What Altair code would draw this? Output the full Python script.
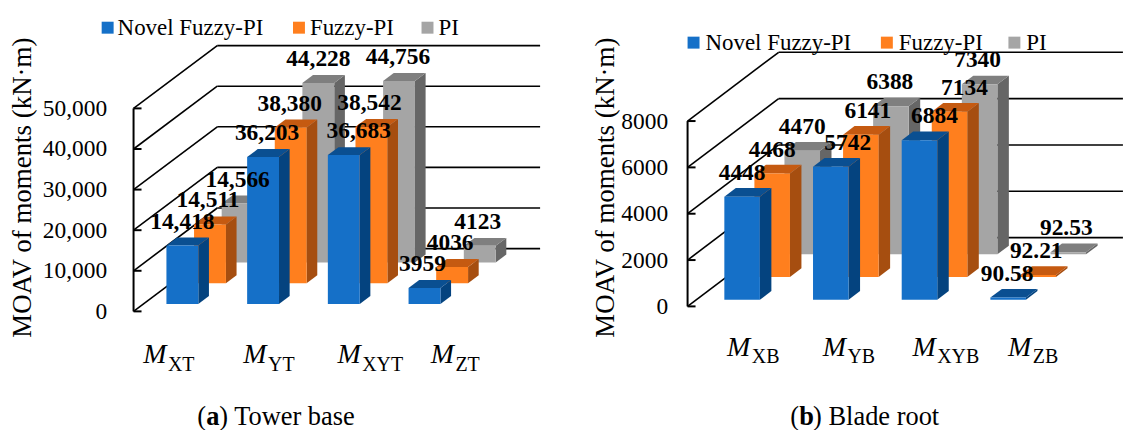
import altair as alt
import pandas as pd

SERIES = ["Novel Fuzzy-PI", "Fuzzy-PI", "PI"]
FRONT = ["#1570C8", "#FF7F1E", "#A5A5A5"]
SIDE = ["#04437F", "#A64E10", "#666666"]
TOP = ["#0A4F91", "#C55A11", "#7F7F7F"]

tower_novel = [14418, 36203, 36683, 3959]
tower_fuzzy = [14511, 38380, 38542, 4036]
tower_pi = [14566, 44228, 44756, 4123]
tower_ticks = [0, 10000, 20000, 30000, 40000, 50000]
tower_cats = ["XT", "YT", "XYT", "ZT"]

blade_novel = [4448, 5742, 6884, 90.58]
blade_fuzzy = [4468, 6141, 7134, 92.21]
blade_pi = [4470, 6388, 7340, 92.53]
blade_ticks = [0, 2000, 4000, 6000, 8000]
blade_cats = ["XB", "YB", "XYB", "ZB"]

SERIF = "Liberation Serif"


def label_text(v):
    if isinstance(v, float):
        return f"{v:.2f}"
    return f"{v:,}" if v >= 10000 else str(v)


def panel(values, ticks, cats, fmt, P):
    step, ax, y0, vmax, hpx = P["step"], P["ax"], P["y0"], ticks[-1], P["hpx"]
    vpp = vmax / hpx
    dxd, dyd = P["dx"], P["dy"]
    fx0, fx1 = P["frame"]
    fy0, fy1 = 8, 430
    cx = lambda px: (px - ax) / step
    vy = lambda py: (y0 - py) * vpp
    X = lambda c, z: c + z * dxd / step
    V = lambda v, z: v + z * dyd * vpp
    sx = alt.Scale(domain=[cx(fx0), cx(fx1)], nice=False, zero=False)
    sy = alt.Scale(domain=[vy(fy1), vy(fy0)], nice=False, zero=False)
    ex = alt.X("x:Q", scale=sx, axis=None)
    ey = alt.Y(
        "y:Q",
        scale=sy,
        stack=None,
        axis=alt.Axis(
            values=ticks, format=fmt, offset=-(ax - fx0),
            domain=False, ticks=False, grid=False,
            labelPadding=P["lab_pad"], labelFont=SERIF, labelFontSize=23.5,
            labelColor="black", title="MOAV of moments (kN·m)",
            titleFont=SERIF, titleFontSize=27, titleFontWeight="normal",
            titleColor="black", titleAngle=270, titleAlign="center",
            titleBaseline="middle", titleX=P["title_x"] - ax, titleY=187 - fy0,
        ),
    )

    rows = []
    end = min(X(0, 1) + 4, cx(fx1) - 0.001)
    for k, t in enumerate(ticks):
        rows += [
            {"id": f"d{k}", "x": X(0, 0), "y": V(t, 0)},
            {"id": f"d{k}", "x": X(0, 1), "y": V(t, 1)},
            {"id": f"g{k}", "x": X(0, 1), "y": V(t, 1)},
            {"id": f"g{k}", "x": end, "y": V(t, 1)},
        ]
    walls = (
        alt.Chart(pd.DataFrame(rows))
        .mark_line(color="black", strokeWidth=1.6)
        .encode(x=ex, y=ey, detail="id:N")
    )
    rows = []
    for k, t in enumerate(ticks):
        rows += [
            {"id": k, "x": X(0, 0), "y": V(t, 0)},
            {"id": k, "x": X(0, 0) + 8 / step, "y": V(t, 0)},
        ]
    rows += [{"id": "axis", "x": 0, "y": 0}, {"id": "axis", "x": 1e-9, "y": vmax}]
    front_axis = (
        alt.Chart(pd.DataFrame(rows))
        .mark_line(color="black", strokeWidth=2)
        .encode(x=ex, y=ey, detail="id:N")
    )
    layers = [walls, front_axis]

    labels = []
    for s in [2, 1, 0]:
        z1 = P["z0"] + s * P["zstep"]
        z2 = z1 + P["dz"]
        fr, si, to = [], [], []
        for i, val in enumerate(values[s]):
            l = i + P["coff"]
            r = l + P["cw"]
            fr.append({"x": X(l, z1), "x2": X(r, z1), "y": V(0, z1), "y2": V(val, z1), "Series": SERIES[s]})
            si += [
                {"b": i, "x": X(r, z1), "y": V(0, z1), "y2": V(val, z1)},
                {"b": i, "x": X(r, z2), "y": V(0, z2), "y2": V(val, z2)},
            ]
            to += [
                {"b": i, "y": V(val, z1), "x": X(l, z1), "x2": X(r, z1)},
                {"b": i, "y": V(val, z2), "x": X(l, z2), "x2": X(r, z2)},
            ]
            labels.append({
                "x": X((l + r) / 2, z1) + P["nudge"][s][i] / step,
                "y": V(val, z1) + 24 * vpp,
                "t": label_text(val),
            })
        layers.append(
            alt.Chart(pd.DataFrame(si)).mark_area(color=SIDE[s], orient="vertical").encode(
                x=ex, y=ey, y2="y2:Q", detail="b:N")
        )
        layers.append(
            alt.Chart(pd.DataFrame(to)).mark_area(color=TOP[s], orient="horizontal").encode(
                x=ex, x2="x2:Q", y=ey, detail="b:N")
        )
        layers.append(
            alt.Chart(pd.DataFrame(fr)).mark_rect().encode(
                x=ex, x2="x2:Q", y=ey, y2="y2:Q",
                color=alt.Color("Series:N", scale=alt.Scale(domain=SERIES, range=FRONT), legend=None),
            )
        )

    layers.append(
        alt.Chart(pd.DataFrame(labels))
        .mark_text(font=SERIF, fontSize=23.5, fontWeight="bold", color="black", align="center", baseline="middle")
        .encode(x=ex, y=ey, text="t:N")
    )

    lg_sq, lg_tx = [], []
    for s, name in enumerate(SERIES):
        lg_sq.append({"x": cx(P["leg_sq"][s]), "y": vy(P["leg_y"]), "Series": name})
        lg_tx.append({"x": cx(P["leg_tx"][s]), "y": vy(P["leg_y"]), "t": name})
    layers.append(
        alt.Chart(pd.DataFrame(lg_sq)).mark_square(size=144, opacity=1).encode(
            x=ex, y=ey,
            color=alt.Color("Series:N", scale=alt.Scale(domain=SERIES, range=FRONT), legend=None),
        )
    )
    layers.append(
        alt.Chart(pd.DataFrame(lg_tx))
        .mark_text(font=SERIF, fontSize=23, color="black", align="left", baseline="middle")
        .encode(x=ex, y=ey, text="t:N")
    )

    ms, subs = [], []
    for i, name in enumerate(cats):
        split = i + P["cat_nudge"][i] / step
        ms.append({"x": split, "y": vy(P["cat_y"]), "t": "M"})
        subs.append({"x": split + 1.5 / step, "y": vy(P["cat_y"] + 10), "t": name})
    layers.append(
        alt.Chart(pd.DataFrame(ms))
        .mark_text(font=SERIF, fontSize=28, fontStyle="italic", color="black", align="right", baseline="middle")
        .encode(x=ex, y=ey, text="t:N")
    )
    layers.append(
        alt.Chart(pd.DataFrame(subs))
        .mark_text(font=SERIF, fontSize=20, color="black", align="left", baseline="middle")
        .encode(x=ex, y=ey, text="t:N")
    )

    cap_x = P["cap_x"]
    cap_y = vy(418)
    for txt, off, weight in [("(", 0, "normal"), (P["cap_letter"], 9, "bold"), (P["cap_text"], 9 + P["letter_w"], "normal")]:
        layers.append(
            alt.Chart(pd.DataFrame([{"x": cx(cap_x + off), "y": cap_y, "t": txt}]))
            .mark_text(font=SERIF, fontSize=26.5, fontWeight=weight, color="black", align="left", baseline="middle")
            .encode(x=ex, y=ey, text="t:N")
        )

    return alt.layer(*layers).properties(width=fx1 - fx0, height=fy1 - fy0)


tower = panel(
    [tower_novel, tower_fuzzy, tower_pi], tower_ticks, tower_cats, ",d",
    dict(step=81, ax=134, y0=311.7, hpx=203.7, dx=84, dy=63, frame=(8, 570),
         z0=0.117, dz=0.127, zstep=0.33, coff=0.286, cw=0.395, lab_pad=27, title_x=23,
         leg_sq=[108, 300, 429], leg_tx=[118, 311, 440], leg_y=27, cat_y=356, cat_nudge=[33, 52.5, 66, 78.5],
         nudge=[[0, 4, 15, -2], [-2, -1, -2, -2], [0, 0, -1, -2]],
         cap_x=198, cap_letter="a", cap_text=") Tower base", letter_w=13),
)
blade = panel(
    [blade_novel, blade_fuzzy, blade_pi], blade_ticks, blade_cats, "d",
    dict(step=89, ax=690, y0=306.7, hpx=186, dx=91.4, dy=69, frame=(570, 1127),
         z0=0.097, dz=0.126, zstep=0.33, coff=0.315, cw=0.401, lab_pad=20, title_x=608,
         leg_sq=[696, 890, 1018], leg_tx=[708, 902, 1030], leg_y=42, cat_y=348, cat_nudge=[63, 70, 71, 78],
         nudge=[[0, 17, 15, -1], [0, 7, 15, -2], [0, -1, -2, -2]],
         cap_x=793, cap_letter="b", cap_text=") Blade root", letter_w=14),
)

chart = (
    alt.hconcat(tower, blade, spacing=0)
    .resolve_scale(color="independent")
    .properties(padding=0, background="white")
    .configure_view(stroke=None)
)
chart.save("out.html", embed_options={"renderer": "svg", "actions": False})
